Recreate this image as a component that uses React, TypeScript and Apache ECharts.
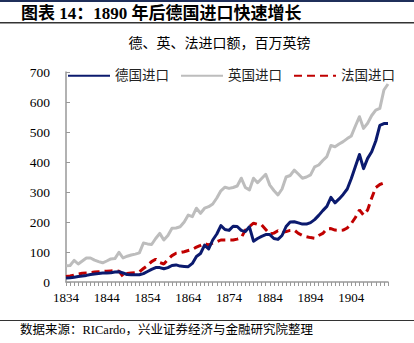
import React, { useEffect, useRef } from "react";
import * as echarts from "echarts";

const years: string[] = [];
for (let y = 1834; y <= 1913; y++) years.push(String(y));

const germany = [
  13, 14, 16, 18, 20, 22, 25, 27, 28, 30,
  30, 31, 33, 34, 30, 25, 24, 24, 24, 28,
  35, 42, 48, 48, 44, 48, 55, 57, 53, 52,
  51, 62, 85, 95, 123, 110, 140, 160, 188, 175,
  172, 186, 185, 172, 168, 184, 136, 145, 152, 158,
  158, 145, 142, 155, 185, 200, 201, 197, 193, 193,
  198, 208, 222, 238, 252, 282, 264, 277, 292, 310,
  345, 385, 425, 378, 412, 434, 470, 522, 528, 528,
];

const britain = [
  54, 55, 72, 60, 70, 80, 80, 73, 68, 64,
  70, 77, 78, 99, 80, 86, 90, 93, 97, 130,
  127, 125, 145, 162, 140, 155, 179, 180, 184, 200,
  223, 218, 246, 229, 246, 251, 260, 280, 304, 316,
  312, 315, 320, 346, 315, 307, 346, 331, 345, 359,
  323, 305, 290, 310, 350, 355, 373, 360, 346, 350,
  357, 384, 390, 405, 418, 455, 451, 460, 468, 478,
  487, 520, 551, 512, 529, 555, 573, 579, 640, 660,
];

const france = [
  18, 20, 23, 26, 29, 30, 31, 33, 34, 35,
  36, 37, 38, 36, 18, 28, 30, 31, 34, 45,
  55, 68, 76, 65, 60, 75, 88, 96, 98, 101,
  105, 109, 116, 122, 129, 123, 130, 134, 140, 140,
  140, 140, 143, 148, 173, 185, 196, 192, 190, 175,
  160, 163, 171, 165, 168, 172, 173, 162, 155, 151,
  148, 146, 155, 162, 177, 178, 173, 172, 173, 180,
  195, 215, 240, 223, 240, 280, 315, 325, 330, null,
];

const seriesNames = ["德国进口", "英国进口", "法国进口"];
const yTicks = { min: 0, max: 700, interval: 100 };

const headerTitle = "图表 14：1890 年后德国进口快速增长";
const chartSubtitle = "德、英、法进口额，百万英镑";
const sourceNote = "数据来源：RICardo，兴业证券经济与金融研究院整理";

const FONT = "'Liberation Serif', 'Times New Roman', 'Noto Sans CJK SC', serif";
const CJK = "'Liberation Serif', 'Noto Sans CJK SC', sans-serif";

export default function App() {
  const ref = useRef<HTMLDivElement>(null);
  useEffect(() => {
    if (!ref.current) return;
    const chart = echarts.init(ref.current, null, { renderer: "svg" });
    chart.setOption({
      animation: false,
      backgroundColor: "#ffffff",
      textStyle: { fontFamily: FONT },
      graphic: [
        { type: "rect", shape: { x: 0, y: 0, width: 414, height: 2 }, style: { fill: "#1f2f5a" } },
        {
          type: "text",
          left: 21,
          top: 5,
          style: { text: headerTitle, font: `bold 17px ${CJK}`, fill: "#000" },
        },
        { type: "rect", shape: { x: 0, y: 22, width: 414, height: 1.5 }, style: { fill: "#333" } },
        {
          type: "text",
          x: 219.5,
          y: 43,
          style: {
            text: chartSubtitle,
            font: `14px ${CJK}`,
            fill: "#000",
            align: "center",
            verticalAlign: "middle",
          },
        },
        { type: "rect", shape: { x: 0, y: 320, width: 414, height: 1 }, style: { fill: "#333" } },
        {
          type: "text",
          x: 20,
          y: 330,
          style: {
            text: sourceNote,
            font: `12.5px ${CJK}`,
            fill: "#000",
            verticalAlign: "middle",
          },
        },
      ],
      legend: {
        left: 62,
        top: 64,
        itemWidth: 42,
        itemHeight: 14,
        itemGap: 11,
        itemStyle: { opacity: 0 },
        textStyle: { fontSize: 13.5, color: "#222", fontFamily: CJK },
        data: seriesNames,
      },
      grid: { left: 66, right: 26, top: 72, bottom: 61, containLabel: false },
      xAxis: {
        type: "category",
        data: years,
        boundaryGap: false,
        axisLine: { lineStyle: { color: "#999", width: 1.5 } },
        axisTick: { show: true, interval: 0, length: 4, lineStyle: { color: "#999" } },
        axisLabel: { interval: 9, fontSize: 13, color: "#000", margin: 9, fontFamily: FONT },
      },
      yAxis: {
        type: "value",
        min: yTicks.min,
        max: yTicks.max,
        interval: yTicks.interval,
        axisLine: { show: true, lineStyle: { color: "#999", width: 1.5 } },
        axisTick: { show: true, inside: true, length: 4, lineStyle: { color: "#999" } },
        splitLine: { show: false },
        axisLabel: { fontSize: 13.5, color: "#000", margin: 16, fontFamily: FONT },
      },
      series: [
        {
          name: seriesNames[0],
          type: "line",
          data: germany,
          symbol: "none",
          z: 3,
          lineStyle: { color: "#0b1a6e", width: 3, join: "round" },
          itemStyle: { color: "#0b1a6e" },
        },
        {
          name: seriesNames[1],
          type: "line",
          data: britain,
          symbol: "none",
          z: 1,
          lineStyle: { color: "#bdbdbd", width: 3, join: "round" },
          itemStyle: { color: "#bdbdbd" },
        },
        {
          name: seriesNames[2],
          type: "line",
          data: france,
          symbol: "none",
          z: 2,
          lineStyle: { color: "#c00000", width: 3, type: [8, 5] },
          itemStyle: { color: "#c00000" },
        },
      ],
    });
    return () => chart.dispose();
  }, []);
  return (
    <div
      ref={ref}
      style={{ position: "absolute", left: 0, top: 0, width: 414, height: 343 }}
    />
  );
}
